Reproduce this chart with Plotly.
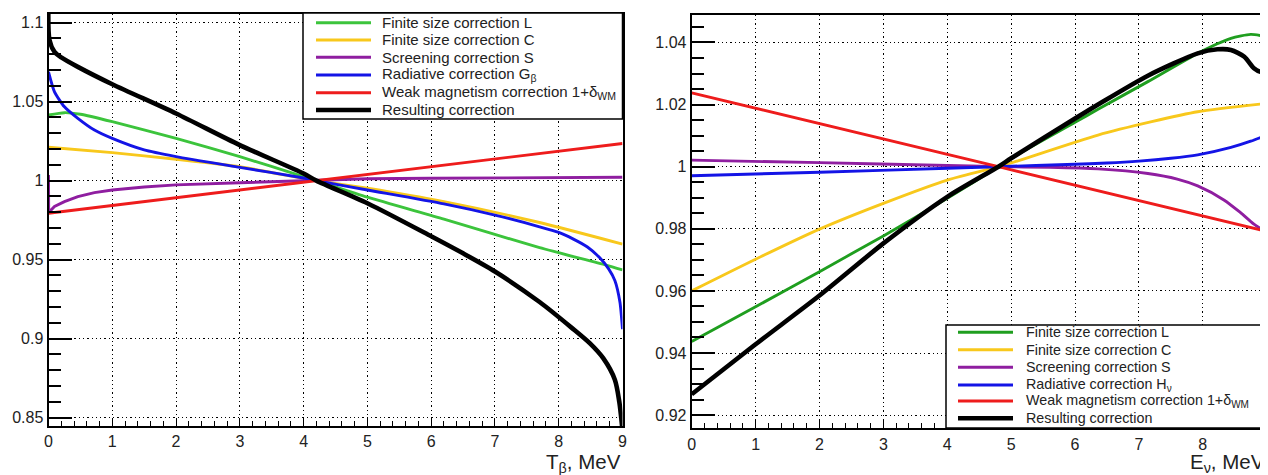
import plotly.graph_objects as go

# page body has an 8px margin in the browser; the figure is sized and positioned to compensate
OX, OY = 8, 8
W, H = 1260, 467

# ---------------- data: left panel (T_beta, MeV) ----------------
t_green = [0, 0.25, 0.5, 1, 2, 3, 4, 4.2, 5, 6.2, 7.7, 8.74, 9.0]
l_green = [1.0415, 1.043, 1.042, 1.0373, 1.0267, 1.0152, 1.0025, 1.0, 0.9895, 0.9756, 0.9576, 0.9466, 0.9435]

t_yellow = [0, 1, 2, 3, 4, 4.2, 5, 6.2, 7.7, 9.0]
l_yellow = [1.0211, 1.0177, 1.0135, 1.0088, 1.0013, 1.0, 0.9952, 0.9867, 0.9735, 0.9598]

t_purple = [0, 0.003, 0.03, 0.094, 0.25, 0.46, 0.72, 1, 1.5, 2, 3, 4.2, 5, 6, 7, 8, 9]
l_purple = [1.0036, 0.9794, 0.981, 0.9836, 0.9867, 0.9899, 0.9924, 0.9941, 0.996, 0.9973, 0.9987, 1.0,
            1.0012, 1.0015, 1.0018, 1.002, 1.0021]

t_blue = [0, 0.094, 0.25, 0.46, 0.72, 1, 1.5, 2, 3, 4, 4.2, 5, 6.2, 7.0, 7.7, 8.0, 8.23, 8.45, 8.64, 8.78,
          8.88, 8.96, 9.0]
l_blue = [1.0688, 1.0562, 1.0467, 1.0394, 1.032, 1.0267, 1.0194, 1.0152, 1.0084, 1.0017, 1.0, 0.9941,
          0.9853, 0.9782, 0.9708, 0.9672, 0.963, 0.958, 0.9513, 0.9443, 0.9368, 0.9230, 0.906]

t_red = [0, 2, 4.2, 6.2, 9]
l_red = [0.9794, 0.9892, 1.0, 1.0098, 1.0235]

t_black = [0, 0.015, 0.094, 0.2, 0.46, 1, 2, 3, 4, 4.2, 5, 6, 6.5, 7, 7.7, 8.2, 8.49, 8.7, 8.88, 8.95, 9.0]
l_black = [1.115, 1.089, 1.0815, 1.078, 1.072, 1.061, 1.0425, 1.0225, 1.0045, 1.0, 0.9857, 0.9648, 0.954,
           0.9425, 0.9232, 0.907, 0.897, 0.8875, 0.874, 0.86, 0.842]

# ---------------- data: right panel (E_nu, MeV) ----------------
e_green = [0, 1, 2, 3, 4, 4.8, 5, 6, 6.36, 7.14, 7.92, 8.44, 8.75, 9.0]
r_green = [0.9437, 0.9549, 0.9662, 0.9777, 0.9898, 1.0, 1.0027, 1.0143, 1.0185, 1.0274, 1.0365, 1.0413,
           1.0426, 1.0419]

e_yellow = [0, 1, 2, 3, 4, 4.8, 5, 6.36, 7.2, 7.92, 9.0]
r_yellow = [0.96, 0.9702, 0.9799, 0.9882, 0.9957, 1.0, 1.0012, 1.0102, 1.0145, 1.0177, 1.0204]

e_purple = [0, 2, 4, 4.8, 5.6, 6.36, 7.14, 7.6, 7.92, 8.33, 8.59, 8.8, 9.0]
r_purple = [1.0021, 1.0013, 1.0004, 1.0, 0.9998, 0.9993, 0.9978, 0.996, 0.9938, 0.9893, 0.9852, 0.9815, 0.9788]

e_blue = [0, 2, 4, 4.8, 6, 6.5, 7, 7.5, 7.92, 8.44, 8.75, 9.0]
r_blue = [0.9971, 0.9982, 0.9995, 1.0, 1.0008, 1.0012, 1.0018, 1.0027, 1.0038, 1.0062, 1.0082, 1.0102]

e_red = [0, 1, 4.8, 9]
r_red = [1.0238, 1.0188, 1.0, 0.9792]

e_black = [0, 1, 2, 3, 4, 4.8, 5, 6, 6.4, 7.14, 7.92, 8.23, 8.44, 8.65, 8.8, 8.9, 9.0]
r_black = [0.9267, 0.9428, 0.9585, 0.9753, 0.9903, 1.0, 1.0027, 1.0155, 1.0205, 1.0293, 1.0365, 1.0378,
           1.0376, 1.0354, 1.0317, 1.0306, 1.0308]

left_labels = ["Finite size correction L", "Finite size correction C", "Screening correction S",
               "Radiative correction G<sub>β</sub>", "Weak magnetism correction 1+δ<sub>WM</sub>",
               "Resulting correction"]
right_labels = ["Finite size correction L", "Finite size correction C", "Screening correction S",
                "Radiative correction H<sub>ν</sub>", "Weak magnetism correction 1+δ<sub>WM</sub>",
                "Resulting correction"]

left_yticks = [0.85, 0.9, 0.95, 1.0, 1.05, 1.1]
left_yticktext = ["0.85", "0.9", "0.95", "1", "1.05", "1.1"]
right_yticks = [0.92, 0.94, 0.96, 0.98, 1.0, 1.02, 1.04]
right_yticktext = ["0.92", "0.94", "0.96", "0.98", "1", "1.02", "1.04"]
xticks = [0, 1, 2, 3, 4, 5, 6, 7, 8, 9]

# ---------------- styles ----------------
C_GREEN_L = "#3cc43c"
C_GREEN_R = "#1f9e1f"
C_YELLOW = "#f8c81c"
C_PURPLE = "#8f1ea0"
C_BLUE = "#1414e6"
C_RED = "#ee1c1c"
C_BLACK = "#000000"
LW = 2.9
LWB = 4.6
FONT = "Liberation Sans, Arial, Helvetica, sans-serif"

fig = go.Figure()

left_series = [(t_green, l_green, C_GREEN_L, LW, "spline", 0.6),
               (t_yellow, l_yellow, C_YELLOW, LW, "spline", 0.6),
               (t_purple, l_purple, C_PURPLE, LW, "linear", 0),
               (t_blue, l_blue, C_BLUE, LW, "spline", 0.6),
               (t_red, l_red, C_RED, LW, "linear", 0),
               (t_black, l_black, C_BLACK, LWB, "spline", 0.8)]
right_series = [(e_green, r_green, C_GREEN_R, LW, "spline", 0.6),
                (e_yellow, r_yellow, C_YELLOW, LW, "spline", 0.7),
                (e_purple, r_purple, C_PURPLE, LW, "spline", 0.7),
                (e_blue, r_blue, C_BLUE, LW, "spline", 0.7),
                (e_red, r_red, C_RED, LW, "linear", 0),
                (e_black, r_black, C_BLACK, LWB, "spline", 0.7)]

for (x, y, c, w, sh, sm), name in zip(left_series, left_labels):
    fig.add_trace(go.Scatter(x=x, y=y, mode="lines", name=name, showlegend=False,
                             line=dict(color=c, width=w, shape=sh, smoothing=sm if sh == "spline" else None),
                             xaxis="x", yaxis="y"))
for (x, y, c, w, sh, sm), name in zip(right_series, right_labels):
    fig.add_trace(go.Scatter(x=x, y=y, mode="lines", name=name, showlegend=False,
                             line=dict(color=c, width=w, shape=sh, smoothing=sm if sh == "spline" else None),
                             xaxis="x2", yaxis="y2"))


def px(xp):
    return (xp - OX) / W


def py(yp):
    return 1 - (yp - OY) / H


axis_common = dict(showline=True, linecolor="black", linewidth=2, mirror=True, automargin=False,
                   showgrid=True, gridcolor="black", gridwidth=1, griddash="1.3px,3px",
                   zeroline=False, ticks="inside", tickcolor="black",
                   tickfont=dict(family=FONT, size=16, color="#222"))

fig.update_layout(
    template="none",
    width=W, height=H, margin=dict(l=0, r=0, t=0, b=0, autoexpand=False),
    paper_bgcolor="white", plot_bgcolor="white", showlegend=False,
    xaxis=dict(domain=[px(48.5), px(622.5)], range=[0, 9], anchor="y",
               tickvals=xticks, ticklen=8, tickwidth=1.2,
               minor=dict(dtick=0.2, tick0=0, ticklen=5, ticks="inside", tickcolor="black", showgrid=False),
               **axis_common),
    yaxis=dict(domain=[py(426), py(14)], range=[0.84475, 1.10544], anchor="x",
               tickvals=left_yticks, ticktext=left_yticktext, ticklen=23, tickwidth=1.5,
               minor=dict(dtick=0.01, tick0=0.85, ticklen=12, ticks="inside", tickcolor="black", showgrid=False),
               **axis_common),
    xaxis2=dict(domain=[px(691.7), px(1266.7)], range=[0, 9], anchor="y2",
                tickvals=xticks, ticklen=8, tickwidth=1.2,
                minor=dict(dtick=0.2, tick0=0, ticklen=5, ticks="inside", tickcolor="black", showgrid=False),
                **axis_common),
    yaxis2=dict(domain=[py(428.3), py(14.7)], range=[0.91575, 1.04895], anchor="x2",
                tickvals=right_yticks, ticktext=right_yticktext, ticklen=23, tickwidth=1.5,
                minor=dict(dtick=0.005, tick0=0.92, ticklen=12, ticks="inside", tickcolor="black", showgrid=False),
                **axis_common),
)

shapes = []
annotations = []

# axis titles
annotations.append(dict(xref="paper", yref="paper", x=px(623), y=py(462.5), xanchor="right", yanchor="middle",
                        text="T<sub>β</sub>, MeV", showarrow=False,
                        font=dict(family=FONT, size=20.5, color="#222")))
annotations.append(dict(xref="paper", yref="paper", x=px(1267), y=py(462.5), xanchor="right", yanchor="middle",
                        text="E<sub>ν</sub>, MeV", showarrow=False,
                        font=dict(family=FONT, size=20.5, color="#222")))


def add_legend(box, rows, line_x, text_x, series, labels, fsize):
    x0, y0, x1, y1 = box
    shapes.append(dict(type="rect", xref="paper", yref="paper", x0=px(x0), x1=px(x1), y0=py(y1), y1=py(y0),
                       line=dict(color="black", width=1.5), fillcolor="white", layer="above"))
    for ry, s, lab in zip(rows, series, labels):
        shapes.append(dict(type="line", xref="paper", yref="paper", x0=px(line_x[0]), x1=px(line_x[1]),
                           y0=py(ry), y1=py(ry), line=dict(color=s[2], width=s[3]), layer="above"))
        annotations.append(dict(xref="paper", yref="paper", x=px(text_x), y=py(ry), xanchor="left",
                                yanchor="middle", text=lab, showarrow=False,
                                font=dict(family=FONT, size=fsize, color="#222")))


add_legend((303, 13, 622.5, 119), [22.7, 40, 57.3, 75, 92.7, 110], (316, 371), 380,
           left_series, left_labels, 15)
add_legend((946, 325, 1265, 428), [332.3, 349.7, 367.3, 385, 401, 418.3], (958, 1013), 1024,
           right_series, right_labels, 14.3)

fig.update_layout(shapes=shapes, annotations=annotations)

fig.write_html("out.html")
